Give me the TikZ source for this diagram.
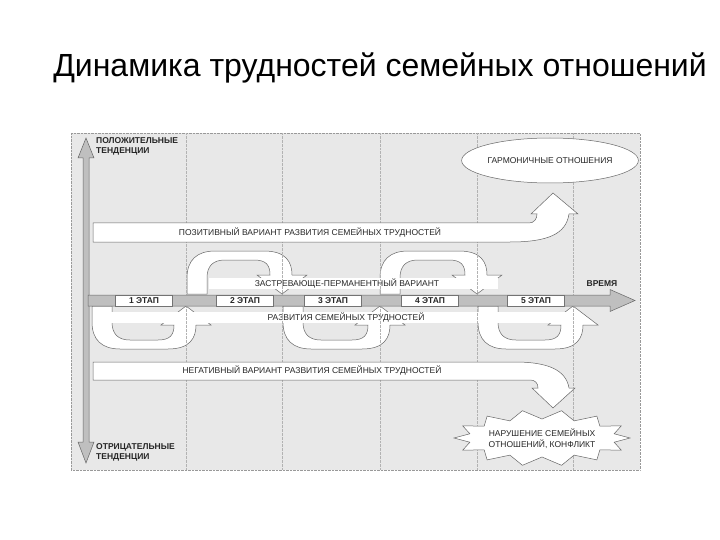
\documentclass[tikz,border=0pt]{standalone}
\usepackage{fontspec}
\setmainfont{Liberation Sans}
\usetikzlibrary{shapes.geometric}

% loop arrow of one stage: #1 left x, #2 tip x, #3 side (1 below the axis, -1 above)
\newcommand{\stageloop}[3]{%
  \filldraw[loopband] (#1,{300+(#3)*6}) -- (#1,{300+(#3)*22})
    .. controls (#1,{300+(#3)*40}) and ({#1+10},{300+(#3)*49}) .. ({#1+28},{300+(#3)*49})
    -- ({#2-18},{300+(#3)*49})
    .. controls ({#2+4},{300+(#3)*49}) and ({#2+10},{300+(#3)*38}) .. ({#2+10},{300+(#3)*25})
    -- ({#2+25},{300+(#3)*25}) -- (#2,{300+(#3)*6}) -- ({#2-25},{300+(#3)*25}) -- ({#2-12},{300+(#3)*25})
    .. controls ({#2-12},{300+(#3)*35}) and ({#2-16},{300+(#3)*40}) .. ({#2-28},{300+(#3)*40})
    -- ({#1+38},{300+(#3)*40})
    .. controls ({#1+26},{300+(#3)*40}) and ({#1+20},{300+(#3)*34}) .. ({#1+20},{300+(#3)*22})
    -- ({#1+20},{300+(#3)*6}) -- cycle;}

\begin{document}
\begin{tikzpicture}[x=1pt,y=-1pt,
    panel/.style={fill=black!9,draw=black!40,densely dotted},
    guide/.style={draw=black!30,densely dotted,line width=0.35pt},
    band/.style={draw=black!60,fill=white,line width=0.5pt},
    loopband/.style={draw=black!60,fill=white,line width=0.5pt},
    greyarrow/.style={draw=black!60,fill=black!25,line width=0.5pt},
    lbl/.style={font=\fontsize{8.5}{10.5}\selectfont,text=black!85,inner sep=0pt,align=center},
    boldlbl/.style={lbl,font=\fontsize{8.5}{10}\selectfont\bfseries,align=left},
    stagebox/.style={draw=black!55,fill=white,line width=0.4pt,minimum width=57pt,minimum height=11.5pt,
      inner sep=0pt,font=\fontsize{8.5}{10}\selectfont\bfseries,text=black!85}
  ]
  \useasboundingbox (0,0) rectangle (720,540);
  \node[font=\fontsize{32}{38}\selectfont] (title) at (380,68) {Динамика трудностей семейных отношений};

  % background panel
  \filldraw[panel] (71,133) rectangle (640,470);

  % loops of the stages
  \stageloop{92}{186}{1}
  \stageloop{187}{282}{-1}
  \stageloop{283}{380}{1}
  \stageloop{380}{477}{-1}
  \stageloop{478}{573}{1}

  % text bands along the axis
  \fill[white] (209,278) rectangle (498,289);
  \fill[white] (93,312) rectangle (576,323);
  \node[lbl] (stuckvar) at (347,283.5) {ЗАСТРЕВАЮЩЕ-ПЕРМАНЕНТНЫЙ ВАРИАНТ};
  \node[lbl] (devvar) at (346,317.5) {РАЗВИТИЯ СЕМЕЙНЫХ ТРУДНОСТЕЙ};

  % stage borders
  \foreach \x in {186,282,380,477,573}
    \draw[guide] (\x,133) -- (\x,470);

  % tendencies
  \filldraw[greyarrow] (83,158) -- (78,158) -- (86,138) -- (94,158) -- (89,158)
    -- (89,442) -- (94,442) -- (86,463) -- (78,442) -- (83,442) -- cycle;
  \node[boldlbl,anchor=north west] (postrend) at (96,137) {ПОЛОЖИТЕЛЬНЫЕ\\ТЕНДЕНЦИИ};
  \node[boldlbl,anchor=north west] (negtrend) at (96,443) {ОТРИЦАТЕЛЬНЫЕ\\ТЕНДЕНЦИИ};

  % positive variant
  \node[ellipse,band,minimum width=175pt,minimum height=45pt,lbl] (harmony) at (550,160.5) {ГАРМОНИЧНЫЕ ОТНОШЕНИЯ};
  \filldraw[band] (93,223) -- (529,223) .. controls (534,223) and (537,219) .. (537,214)
    -- (531,214) -- (553,193) -- (578,214) -- (569,214)
    .. controls (566,234) and (548,242) .. (510,242) -- (93,242) -- cycle;
  \node[lbl] (posvar) at (310,232.5) {ПОЗИТИВНЫЙ ВАРИАНТ РАЗВИТИЯ СЕМЕЙНЫХ ТРУДНОСТЕЙ};

  % negative variant
  \filldraw[band] (93,362) -- (515,362) .. controls (548,362) and (566,370) .. (569,388)
    -- (575,388) -- (553,408) -- (532,388) -- (538,388)
    .. controls (538,383) and (535,380) .. (530,380) -- (93,380) -- cycle;
  \node[lbl] (negvar) at (312,371) {НЕГАТИВНЫЙ ВАРИАНТ РАЗВИТИЯ СЕМЕЙНЫХ ТРУДНОСТЕЙ};
  \filldraw[band] (630,438) \foreach \i in {1,...,27} {
    -- ({542+(mod(\i,2)==0 ? 88 : 74)*cos(\i*360/28)},{438+(mod(\i,2)==0 ? 28 : 19)*sin(\i*360/28)})
  } -- cycle;
  \node[lbl] (conflict) at (542,438.5) {НАРУШЕНИЕ СЕМЕЙНЫХ\\ОТНОШЕНИЙ, КОНФЛИКТ};

  % time axis
  \filldraw[greyarrow] (88,295) -- (610,295) -- (610,289.5) -- (635,300.5) -- (610,311.5)
    -- (610,306) -- (88,306) -- cycle;
  \foreach \x/\n in {144/1,245/2,333/3,430/4,536/5}
    \node[stagebox] (stage\n) at (\x,300.5) {\n\ ЭТАП};
  \node[boldlbl] (time) at (602,284) {ВРЕМЯ};
\end{tikzpicture}
\end{document}
